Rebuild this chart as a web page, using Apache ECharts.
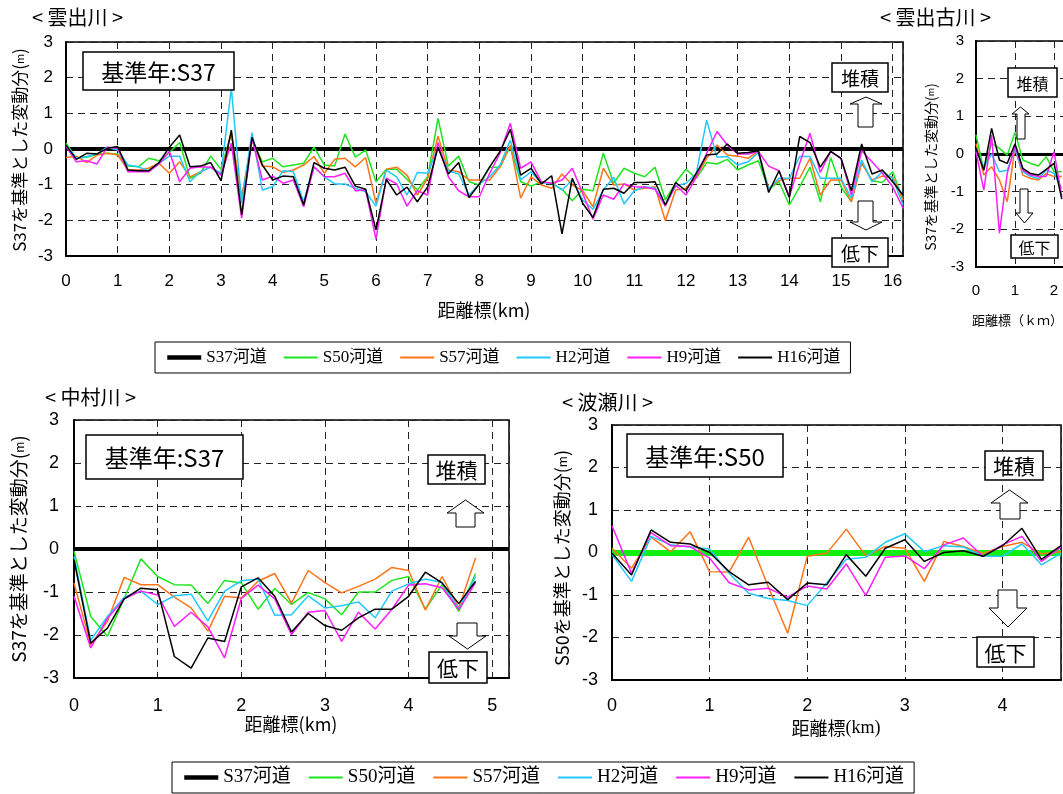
<!DOCTYPE html>
<html><head><meta charset="utf-8">
<script src="https://cdn.jsdelivr.net/npm/echarts@6/dist/echarts.min.js"></script>
<style>html,body{margin:0;padding:0;background:#fff}#c{width:1063px;height:794px}</style>
</head><body><div id="c"></div>
<script>
// ---------- DATA ----------
const seriesNames = ['S37河道','S50河道','S57河道','H2河道','H9河道','H16河道'];
const yTicks = [-3,-2,-1,0,1,2,3];

// 雲出川 (base S37)
const kumozuKm = [0,0.2,0.4,0.6,0.8,1,1.2,1.4,1.6,1.8,2,2.2,2.4,2.6,2.8,3,3.2,3.4,3.6,3.8,4,4.2,4.4,4.6,4.8,5,5.2,5.4,5.6,5.8,6,6.2,6.4,6.6,6.8,7,7.2,7.4,7.6,7.8,8,8.2,8.4,8.6,8.8,9,9.2,9.4,9.6,9.8,10,10.2,10.4,10.6,10.8,11,11.2,11.4,11.6,11.8,12,12.2,12.4,12.6,12.8,13,13.2,13.4,13.6,13.8,14,14.2,14.4,14.6,14.8,15,15.2,15.4,15.6,15.8,16,16.2];
const kumozuS50 = [0.16,-0.26,-0.23,-0.15,-0.12,-0.14,-0.48,-0.5,-0.26,-0.33,-0.1,0.18,-0.82,-0.68,-0.2,-0.57,0.44,-1.43,0.25,-0.36,-0.26,-0.5,-0.45,-0.4,0.05,-0.45,-0.48,0.42,-0.23,-0.03,-0.92,-0.57,-0.57,-0.85,-1.15,-0.78,0.86,-0.48,-0.2,-0.92,-1.01,-0.51,-0.51,0.07,-0.92,-1.04,-0.92,-0.96,-1.13,-1.45,-1.13,-1.17,-0.12,-0.96,-0.54,-0.68,-0.78,-0.51,-1.43,-0.94,-0.57,-0.82,-0.38,-0.42,-0.29,-0.59,-0.45,-0.33,-1.13,-0.92,-1.57,-1.06,-0.51,-1.48,-0.24,-1.06,-1.48,-0.36,-0.89,-0.94,-0.64,-1.43];
const kumozuS57 = [-0.24,-0.2,-0.38,-0.17,-0.12,-0.17,-0.59,-0.59,-0.54,-0.4,-0.68,-0.36,-0.78,-0.64,-0.51,-0.68,0.44,-1.34,0.25,-0.48,-0.5,-0.66,-0.59,-0.45,-0.21,-0.68,-0.29,-0.26,-0.5,-0.24,-1.52,-0.57,-0.51,-0.73,-1.29,-0.82,0.36,-0.59,-0.64,-0.87,-0.87,-0.87,-0.5,0.11,-1.38,-0.78,-1.01,-1.1,-0.7,-1.01,-1.17,-1.62,-0.54,-1.01,-0.98,-1.15,-1.1,-1.06,-2.01,-1.15,-1.1,-0.78,-0.26,0.11,-0.17,-0.2,-0.26,-0.07,-1.1,-0.89,-0.82,-0.82,-0.26,-1.29,-0.87,-0.87,-1.48,-0.4,-0.87,-0.76,-0.78,-1.43];
const kumozuH2 = [0.11,-0.26,-0.21,-0.14,0.05,-0.03,-0.45,-0.5,-0.61,-0.4,-0.2,-0.2,-0.92,-0.64,-0.51,-0.68,1.7,-1.52,0.46,-1.15,-1.06,-0.61,-0.64,-1.48,-0.5,-0.78,-0.98,-0.98,-1.1,-1.2,-1.6,-0.59,-0.78,-1.29,-0.66,-0.68,0.05,-0.61,-0.7,-1.29,-0.98,-0.78,-0.45,0.25,-0.87,-0.64,-0.96,-0.94,-1.15,-0.87,-1.43,-1.69,-1.15,-0.79,-1.54,-1.17,-1.06,-1.1,-1.57,-1.04,-0.96,-0.68,0.81,-0.23,-0.21,-0.45,-0.36,-0.1,-1.13,-0.82,-0.82,-0.21,-0.21,-0.82,-0.82,-0.82,-1.38,-0.31,-0.92,-0.64,-0.82,-1.57];
const kumozuH9 = [0.07,-0.36,-0.33,-0.42,0.05,0.02,-0.64,-0.64,-0.64,-0.42,-0.07,-0.92,-0.54,-0.5,-0.51,-0.73,0.16,-1.94,0.3,-0.87,-0.76,-0.96,-0.87,-1.62,-0.5,-0.78,-0.78,-0.68,-1.17,-1.15,-2.53,-0.82,-0.98,-1.6,-1.17,-1.29,0.18,-0.78,-1.17,-1.34,-1.34,-0.68,-0.12,0.72,-0.54,-0.36,-0.92,-0.96,-0.87,-0.54,-1.24,-1.97,-1.29,-1.41,-0.98,-1.06,-1.07,-1.13,-1.6,-1.01,-1.29,-0.79,-0.12,0.49,0.11,-0.14,-0.14,-0.07,-0.48,-0.61,-1.34,-0.4,0.44,-0.66,-0.07,-0.26,-1.29,-0.05,-0.36,-0.68,-1.06,-1.66];
const kumozuH16 = [0.11,-0.29,-0.12,-0.14,0.02,0.07,-0.59,-0.61,-0.61,-0.38,0.05,0.39,-0.5,-0.48,-0.38,-0.89,0.53,-1.85,0.33,-0.45,-0.87,-0.76,-0.78,-1.57,-0.38,-0.54,-0.59,-0.51,-1.04,-1.13,-2.27,-0.85,-1.29,-1.07,-1.48,-1.06,0.05,-0.7,-0.38,-1.36,-0.98,-0.5,-0.07,0.55,-0.73,-0.54,-0.98,-0.75,-2.38,-0.82,-1.52,-1.92,-1.13,-1.1,-1.24,-0.94,-0.94,-0.92,-1.57,-0.94,-1.17,-0.68,-0.17,-0.14,0.14,-0.12,-0.1,-0.05,-1.22,-0.61,-1.36,0.35,0.18,-0.51,-0.07,-0.26,-1.17,0.14,-0.7,-0.59,-0.92,-1.29];

// 雲出古川 (base S37)
const furuKm = [0,0.2,0.4,0.6,0.8,1,1.2,1.4,1.6,1.8,2,2.2];
const furuS50 = [0.51,-0.43,0.28,0.15,-0.03,0.57,-0.16,-0.25,-0.32,-0.07,-0.47,-0.47];
const furuS57 = [0.28,-0.56,-0.34,-0.69,-1.27,0.15,-0.56,-0.65,-0.69,-0.52,-0.6,-0.6];
const furuH2 = [0.11,-0.34,0.0,-0.47,-0.43,0.12,-0.47,-0.6,-0.65,-0.43,-0.51,-0.92];
const furuH9 = [0.06,-0.96,0.5,-2.1,-0.52,0.21,-0.43,-0.56,-0.6,-0.6,0.06,-1.14];
const furuH16 = [0.15,-0.43,0.68,-0.16,-0.25,0.27,-0.38,-0.52,-0.56,-0.41,-0.25,-1.2];

// 中村川 (base S37)
const nakaKm = [0,0.2,0.4,0.6,0.8,1,1.2,1.4,1.6,1.8,2,2.2,2.4,2.6,2.8,3,3.2,3.4,3.6,3.8,4,4.2,4.4,4.6,4.8];
const nakaS50 = [-0.05,-1.57,-2.03,-1.15,-0.23,-0.64,-0.83,-0.84,-1.27,-0.73,-0.79,-1.4,-0.92,-1.29,-1.01,-1.16,-1.53,-1.0,-1.0,-0.73,-0.64,-1.4,-0.83,-1.45,-0.57];
const nakaS57 = [-0.79,-2.23,-1.68,-0.66,-0.83,-0.83,-1.12,-1.37,-1.91,-1.1,-1.14,-0.75,-0.57,-1.26,-0.5,-0.78,-1.02,-0.87,-0.7,-0.43,-0.5,-1.42,-0.64,-1.37,-0.21];
const nakaH2 = [-0.17,-2.12,-1.57,-1.12,-0.98,-1.29,-1.09,-1.05,-1.67,-0.98,-0.74,-0.7,-1.54,-1.53,-1.09,-1.37,-1.32,-1.23,-1.6,-0.98,-0.81,-0.7,-0.78,-1.4,-0.64];
const nakaH9 = [-1.1,-2.3,-1.61,-1.16,-0.98,-1.07,-1.8,-1.47,-1.81,-2.53,-1.15,-0.84,-1.16,-1.99,-1.47,-1.43,-2.15,-1.47,-1.86,-1.4,-0.84,-0.81,-0.9,-1.41,-0.78];
const nakaH16 = [-0.25,-2.19,-1.84,-1.16,-0.91,-0.95,-2.5,-2.77,-2.07,-2.15,-0.88,-0.67,-1.1,-1.93,-1.5,-1.78,-1.89,-1.6,-1.4,-1.4,-1.1,-0.54,-0.79,-1.27,-0.75];

// 波瀬川 (base S50)
const haseKm = [0,0.2,0.4,0.6,0.8,1,1.2,1.4,1.6,1.8,2,2.2,2.4,2.6,2.8,3,3.2,3.4,3.6,3.8,4,4.2,4.4,4.6];
const haseS57 = [0.1,-0.37,0.36,0.02,0.49,-0.45,-0.46,0.36,-0.8,-1.9,-0.09,-0.02,0.55,-0.08,0.14,0.1,-0.68,0.26,0.14,-0.02,0.14,0.24,-0.03,0.02];
const haseH2 = [-0.05,-0.68,0.38,0.18,0.13,0.08,-0.49,-0.96,-1.08,-1.13,-1.25,-0.72,-0.16,-0.11,0.24,0.44,0.02,0.16,0.13,-0.09,-0.09,0.2,-0.29,-0.02];
const haseH9 = [0.63,-0.49,0.47,0.16,0.14,-0.13,-0.71,-0.88,-0.84,-1.05,-0.79,-0.86,-0.27,-1.01,-0.11,-0.08,-0.38,0.18,0.34,-0.09,0.18,0.38,-0.21,0.13];
const haseH16 = [-0.02,-0.53,0.53,0.24,0.2,0.0,-0.45,-0.76,-0.7,-1.11,-0.72,-0.76,-0.05,-0.56,0.1,0.3,-0.21,0.0,0.04,-0.09,0.16,0.57,-0.16,0.16];

// ---------- STYLE ----------
const COL = {'S37河道':'#000000','S50河道':'#1ee61e','S57河道':'#ff7418','H2河道':'#22c8ff','H9河道':'#ff1eff','H16河道':'#000000'};
const SANS = 'Liberation Sans, Arial, Noto Sans CJK JP, sans-serif';
const JP = 'Noto Sans CJK JP, sans-serif';
const SERIF = 'Liberation Serif, Noto Sans CJK JP, serif';

const chart = echarts.init(document.getElementById('c'));

const grids = [
  {left:66, top:42, width:837, height:214, xmax:16.2, lab:17, xm:17, ym:13},
  {left:976, top:41, width:117, height:226, xmax:3, lab:15, xm:16, ym:12},
  {left:74, top:420, width:435, height:258, xmax:5.2, lab:18, xm:19, ym:15},
  {left:612, top:425, width:449, height:255, xmax:4.6, lab:18, xm:17, ym:14}
];

const dash = {color:'#222', type:[7,5], width:1};
const gridOpt = grids.map(g => ({left:g.left, top:g.top, width:g.width, height:g.height, show:true, borderColor:'#000', borderWidth:1.5, containLabel:false, outerBoundsMode:'none'}));
const xAxes = grids.map((g,i) => ({gridIndex:i, type:'value', min:0, max:g.xmax, interval:1,
  axisLine:{show:true, onZero:false, lineStyle:{color:'#000', width:2}}, axisTick:{show:false},
  axisLabel:{color:'#000', fontSize:g.lab, fontFamily:SANS, margin:g.xm, formatter:v => Math.abs(v-Math.round(v))<1e-6 ? String(Math.round(v)) : ''},
  splitLine:{show:true, lineStyle:dash}}));
const yAxes = grids.map((g,i) => ({gridIndex:i, type:'value', min:yTicks[0], max:yTicks[yTicks.length-1], interval:1,
  axisLine:{show:true, onZero:false, lineStyle:{color:'#000', width:2}}, axisTick:{show:false},
  axisLabel:{color:'#000', fontSize:g.lab, fontFamily:SANS, margin:g.ym},
  splitLine:{show:true, lineStyle:dash}}));

function line(name, gi, km, vals, width){
  return {type:'line', name, xAxisIndex:gi, yAxisIndex:gi, data:km.map((k,i)=>[k, vals[i]]),
    symbol:'none', showSymbol:false, animation:false, z:3,
    lineStyle:{color:COL[name], width:width||1.5}, itemStyle:{color:COL[name]}};
}
function base(name, gi, color, width){
  return {type:'line', name, xAxisIndex:gi, yAxisIndex:gi, data:[], symbol:'none', animation:false, z:2,
    lineStyle:{color:COL[name], width:4}, itemStyle:{color:COL[name]},
    markLine:{silent:true, symbol:'none', animation:false, label:{show:false}, z:2,
      lineStyle:{color:color, width:width, type:'solid'}, data:[{yAxis:0}]}};
}

const series = [
  base('S37河道',0,'#000',4),
  line('S50河道',0,kumozuKm,kumozuS50), line('S57河道',0,kumozuKm,kumozuS57), line('H2河道',0,kumozuKm,kumozuH2),
  line('H9河道',0,kumozuKm,kumozuH9), line('H16河道',0,kumozuKm,kumozuH16),
  base('S37河道',1,'#000',3),
  line('S50河道',1,furuKm,furuS50), line('S57河道',1,furuKm,furuS57), line('H2河道',1,furuKm,furuH2),
  line('H9河道',1,furuKm,furuH9), line('H16河道',1,furuKm,furuH16),
  base('S37河道',2,'#000',4),
  line('S50河道',2,nakaKm,nakaS50), line('S57河道',2,nakaKm,nakaS57), line('H2河道',2,nakaKm,nakaH2),
  line('H9河道',2,nakaKm,nakaH9), line('H16河道',2,nakaKm,nakaH16),
  base('S50河道',3,'#11ee11',6),
  line('S57河道',3,haseKm,haseS57), line('H2河道',3,haseKm,haseH2),
  line('H9河道',3,haseKm,haseH9), line('H16河道',3,haseKm,haseH16)
];

// ---------- GRAPHICS (annotations) ----------
const G = [];
function txt(x,y,text,size,opts){
  opts = opts||{};
  G.push({type:'text', x, y, rotation:opts.rot||0, z:20,
    style:{text, fill:'#000', fontSize:size, fontFamily:opts.font||JP,
      align:opts.align||'center', textAlign:opts.align||'center', verticalAlign:'middle', textVerticalAlign:'middle', rich:opts.rich}});
}
function box(x,y,w,h,text,size){
  G.push({type:'rect', shape:{x,y,width:w,height:h}, z:15, style:{fill:'#fff', stroke:'#000', lineWidth:1.5}});
  txt(x+w/2, y+h/2+1, text, size);
}
function upArrow(hx0,hx1,top,base,sx0,sx1,bot){
  const cx=(hx0+hx1)/2;
  G.push({type:'polygon', z:15, shape:{points:[[cx,top],[hx1,base],[sx1,base],[sx1,bot],[sx0,bot],[sx0,base],[hx0,base]]}, style:{fill:'#fff', stroke:'#000', lineWidth:1}});
}
function downArrow(sx0,sx1,top,base,hx0,hx1,tip){
  const cx=(hx0+hx1)/2;
  G.push({type:'polygon', z:15, shape:{points:[[sx0,top],[sx1,top],[sx1,base],[hx1,base],[cx,tip],[hx0,base],[sx0,base]]}, style:{fill:'#fff', stroke:'#000', lineWidth:1}});
}
function yName(x,y,prefix,size){
  txt(x,y,'{a|'+prefix+'を基準とした変動分(}{b|m}{a|)}',size,{rot:Math.PI/2,
    rich:{a:{fontSize:size, fontFamily:JP, fill:'#000'}, b:{fontSize:Math.round(size*0.65), fontFamily:JP, fill:'#000'}}});
}

// titles
txt(32,17,'< 雲出川 >',20,{align:'left'});
txt(880,17,'< 雲出古川 >',20,{align:'left'});
txt(45,397,'< 中村川 >',20,{align:'left'});
txt(562,402,'< 波瀬川 >',20,{align:'left'});
// y axis names
yName(20,150,'S37',17);
yName(931,167,'S37',14);
yName(19,549,'S37',19);
yName(562,558,'S50',18);
// x axis names
txt(484,310,'距離標(km)',18);
txt(972,320,'距離標（ｋｍ）',13,{align:'left'});
txt(291,724,'距離標(km)',18);
txt(836,728,'{a|距離標}{b|(km)}',18,{rich:{a:{fontSize:18,fontFamily:JP,fill:'#000'}, b:{fontSize:18,fontFamily:'Liberation Serif, serif',fill:'#000'}}});
// panel 1
box(83,52,151,38,'基準年:S37',23);
box(832,63,56,29,'堆積',19);
upArrow(850,882,97,104,858,873,127);
downArrow(858,873,201,222,850,882,230);
box(832,238,56,29,'低下',19);
// panel 2
box(1008,68,49,29,'堆積',16);
upArrow(1012,1029,107,114,1017,1025,139);
downArrow(1020,1028,189,213,1016,1033,223);
box(1011,235,47,23,'低下',16);
// panel 3
box(86,435,157,44,'基準年:S37',24);
box(428,455,57,29,'堆積',21);
upArrow(447,484,500,513,456,475,527);
downArrow(457,477,623,636,449,486,649);
box(429,652,58,31,'低下',21);
// panel 4
box(627,434,156,43,'基準年:S50',24);
box(985,451,58,29,'堆積',21);
upArrow(991,1028,490,503,1000,1020,519);
downArrow(998,1017,590,608,989,1027,627);
box(977,637,57,30,'低下',21);

const legendItems = seriesNames.map(n => ({name:n, lineStyle:{width: n === 'S37河道' ? 4.5 : 2}}));
const legendBase = {data:legendItems, orient:'horizontal', selectedMode:false, borderColor:'#000', borderWidth:1,
  itemWidth:34, itemHeight:14, backgroundColor:'#fff', itemStyle:{opacity:0}};

chart.setOption({
  animation:false,
  backgroundColor:'#fff',
  grid:gridOpt, xAxis:xAxes, yAxis:yAxes, series,
  legend:[
    Object.assign({}, legendBase, {left:155, top:342, padding:[7,10], itemGap:16, textStyle:{fontSize:17, fontFamily:SERIF, color:'#000'}}),
    Object.assign({}, legendBase, {left:172, top:762, padding:[6,10], itemGap:17, textStyle:{fontSize:19, fontFamily:SERIF, color:'#000'}})
  ],
  graphic:{elements:G}
});
</script></body></html>
